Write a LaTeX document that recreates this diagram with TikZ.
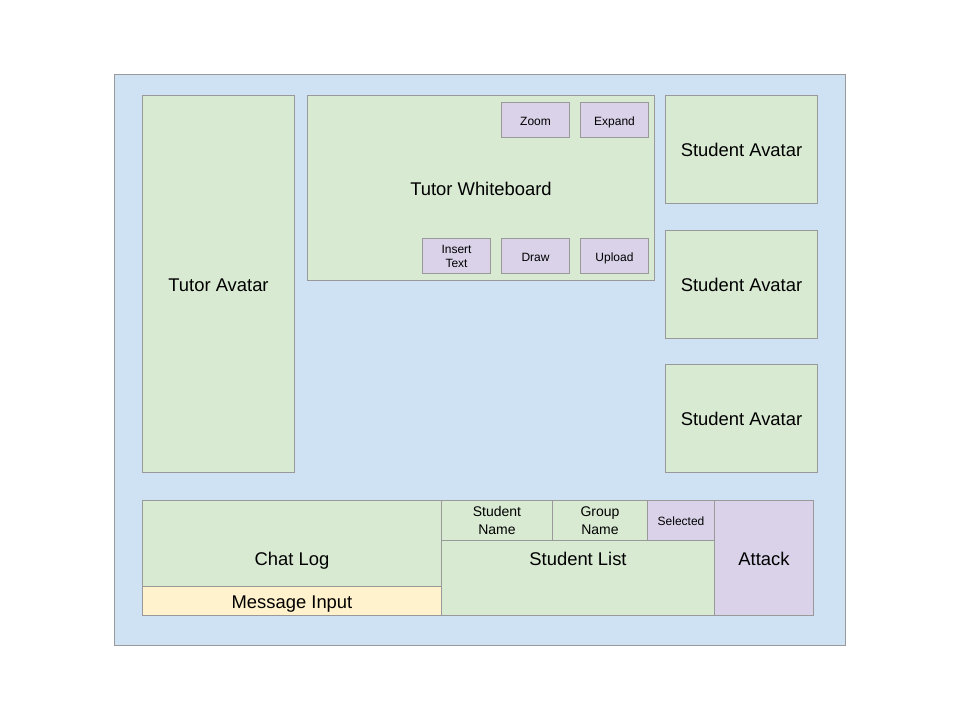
\documentclass[tikz,border=0pt]{standalone}
\usepackage{fontspec}
\setmainfont{Liberation Sans}
\definecolor{bgblue}{HTML}{CFE2F3}
\definecolor{pgreen}{HTML}{D9EAD3}
\definecolor{ppurple}{HTML}{D9D2E9}
\definecolor{pyellow}{HTML}{FFF2CC}
\definecolor{edge}{HTML}{999999}
\tikzset{
  box/.style={draw=edge, line width=1pt, rectangle, inner sep=0pt, anchor=north west, align=center, text=black},
  greenbox/.style={box, fill=pgreen},
  purplebox/.style={box, fill=ppurple},
  yellowbox/.style={box, fill=pyellow},
  bigtxt/.style={font=\fontsize{18.4}{21}\selectfont},
  bigone/.style={bigtxt, text height=14.8pt, text depth=0pt},
  midtxt/.style={font=\fontsize{14}{18}\selectfont},
  smalltxt/.style={font=\fontsize{12}{14}\selectfont},
  smallone/.style={smalltxt, text height=10.4pt, text depth=0pt},
  wh/.style 2 args={minimum width=#1pt, minimum height=#2pt},
}
\begin{document}
\begin{tikzpicture}[x=1pt,y=-1pt]
\useasboundingbox (0,0) rectangle (960,720);
\node[box, fill=bgblue, wh={731}{571}] (frame) at (114,74) {};
% left avatar
\node[greenbox, bigone, wh={152}{377}] (tutor) at (142,95) {Tutor Avatar};
% whiteboard
\node[greenbox, wh={347}{185}] (wb) at (307,95) {};
\node[bigone, inner sep=0pt] (wbl) at (wb.center) {Tutor Whiteboard};
\node[purplebox, smallone, wh={68}{35}] (zoom) at (501,102) {Zoom};
\node[purplebox, smallone, wh={68}{35}] (expand) at (580,102) {Expand};
\node[purplebox, smalltxt, wh={68}{35}] (insert) at (422,238) {Insert\\Text};
\node[purplebox, smallone, wh={68}{35}] (drawb) at (501,238) {Draw};
\node[purplebox, smallone, wh={68}{35}] (upload) at (580,238) {Upload};
% student avatars
\node[greenbox, bigone, wh={152}{108}] (s1) at (665,95) {Student Avatar};
\node[greenbox, bigone, wh={152}{108}] (s2) at (665,230) {Student Avatar};
\node[greenbox, bigone, wh={152}{108}] (s3) at (665,364) {Student Avatar};
% chat
\node[greenbox, wh={299}{115}] (chat) at (142,500) {};
\node[bigone, inner sep=0pt] (chatl) at (chat.center) {Chat Log};
\node[yellowbox, bigone, wh={299}{29}] (msg) at (142,586) {Message Input};
% student list
\node[greenbox, wh={273}{115}] (slist) at (441,500) {};
\node[bigone, inner sep=0pt] (slistl) at (slist.center) {Student List};
\node[greenbox, midtxt, wh={111}{40}] (sname) at (441,500) {Student\\Name};
\node[greenbox, midtxt, wh={95}{40}] (gname) at (552,500) {Group\\Name};
\node[purplebox, smallone, wh={67}{40}] (sel) at (647,500) {Selected};
% attack
\node[purplebox, bigone, wh={99}{115}] (attack) at (714,500) {Attack};
\end{tikzpicture}
\end{document}
